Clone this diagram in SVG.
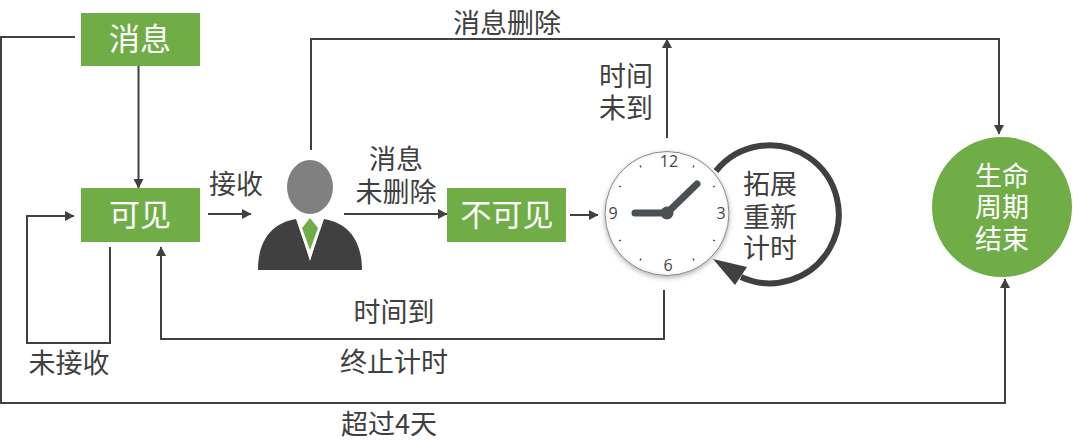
<svg xmlns="http://www.w3.org/2000/svg" width="1073" height="447" viewBox="0 0 1073 447">
<defs>
<marker id="a" markerUnits="userSpaceOnUse" markerWidth="10" markerHeight="10" refX="9" refY="5" orient="auto"><path d="M0 0L9.500 5L0 10Z" fill="#404040"/></marker>
<radialGradient id="f" cx="50%" cy="50%" r="50%"><stop offset="0.94" stop-color="#fff"/><stop offset="1" stop-color="#f2f2f2"/></radialGradient>
<filter id="s" x="-20%" y="-20%" width="140%" height="140%"><feDropShadow dx="0" dy="2" stdDeviation="2.500" flood-color="#000" flood-opacity="0.3"/></filter>
</defs>
<style>
text{font-family:"Noto Sans CJK SC","Noto Sans",sans-serif;font-size:27px;fill:#404040;text-anchor:middle}
.w{fill:#fff}
.t{font-size:31px}
.b{fill:#70ad47}
.c{fill:none;stroke:#404040;stroke-width:2}
.h{stroke:#4a5152;stroke-linecap:round;fill:none;stroke-width:7}
.k{stroke:#444;stroke-width:1.300}
.n{font-size:16px;font-family:"Open Sans",sans-serif;fill:#444}
</style>
<g id="connectors">
<path class="c" d="M75 37H1V403H1005V279" marker-end="url(#a)"/>
<path class="c" d="M138.500 66V188" marker-end="url(#a)"/>
<path class="c" d="M208 214H251" marker-end="url(#a)"/>
<path class="c" d="M110 247V343H27V216H74" marker-end="url(#a)"/>
<path class="c" d="M311 150V39H999V134" marker-end="url(#a)"/>
<path class="c" d="M344 214H447" marker-end="url(#a)"/>
<path class="c" d="M570 215H598" marker-end="url(#a)"/>
<path class="c" d="M667 138V39" marker-end="url(#a)"/>
<path class="c" d="M664 290V339H161V247" marker-end="url(#a)"/>
</g>
<g id="node-msg"><rect class="b" x="81" y="13" width="119" height="53"/><text class="w t" x="140" y="50">消息</text></g>
<g id="node-visible"><rect class="b" x="81" y="188" width="119" height="54"/><text class="w t" x="140" y="226">可见</text></g>
<g id="node-invisible"><rect class="b" x="447" y="188" width="119" height="54"/><text class="w t" x="507" y="226">不可见</text></g>
<g id="node-end"><circle class="b" cx="1002" cy="207" r="70"/><text class="w" x="1002" y="186">生命</text><text class="w" x="1002" y="217">周期</text><text class="w" x="1002" y="249">结束</text></g>
<g id="node-person">
<ellipse cx="310" cy="187" rx="23" ry="27" fill="#808080"/>
<path d="M258 270C258 240 272 223 296 219L310 260L324 219C348 223 362 240 362 270Z" fill="#404040"/>
<path d="M297 218L310 261L323 218Z" fill="#fff"/>
<path d="M310 218L318 228L310 250L302 228Z" fill="#70ad47"/>
</g>
<g id="node-clock">
<path d="M716 171A69 69 0 1 1 741 277" fill="none" stroke="#404040" stroke-width="6"/>
<path d="M713 259L747 267L735 285Z" fill="#404040"/>
<circle cx="667" cy="213.500" r="62" fill="url(#f)" stroke="#888" filter="url(#s)"/>
<g class="k">
<path d="M640 165.500L641 167.500M694 165.500L693 167.500M619 186L621 187M715 186L713 187M619 241L621 240M715 241L713 240M640 260.500L641 258.500M694 260.500L693 258.500"/>
</g>
<text class="n" x="669" y="167">12</text><text class="n" x="721" y="219">3</text><text class="n" x="668" y="271">6</text><text class="n" x="613" y="219">9</text>
<path class="h" d="M667 213H635"/>
<path class="h" d="M667 213L697 184"/>
<circle cx="667" cy="213" r="6.500" fill="#4a5152"/>
<text x="770" y="194">拓展</text><text x="770" y="227">重新</text><text x="770" y="258">计时</text>
</g>
<g id="labels">
<text x="507" y="33">消息删除</text>
<text x="236" y="194">接收</text>
<text x="396" y="169">消息</text><text x="396" y="202">未删除</text>
<text x="626" y="86">时间</text><text x="626" y="118">未到</text>
<text x="394" y="322">时间到</text>
<text x="394" y="372">终止计时</text>
<text x="69" y="373">未接收</text>
<text x="389" y="434">超过4天</text>
</g>
</svg>
